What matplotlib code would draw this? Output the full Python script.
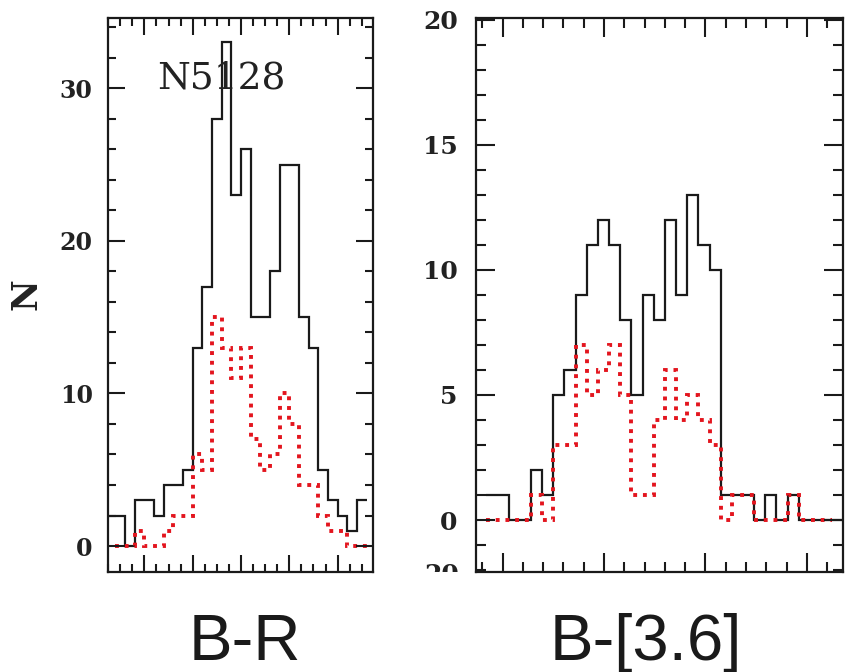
import numpy as np
import matplotlib
matplotlib.use("Agg")
import matplotlib.pyplot as plt
from matplotlib.ticker import MultipleLocator
from matplotlib.transforms import Bbox, TransformedBbox

# ---- data ----
# left panel: B-R colour histogram, bins of 0.1 starting at 0.1
br_start, br_width = 0.1, 0.1
br_all = [2, 2, 0, 3, 3, 2, 4, 4, 5, 13, 17, 28, 33, 23, 26, 15, 15, 18, 25, 25,
          15, 13, 5, 3, 2, 1, 3]
# red subsample, bins starting at 0.2
br_sub_start = 0.2
br_sub = [0, 0, 1, 0, 0, 1, 2, 2, 6, 5, 15, 13, 11, 13, 7, 5, 6, 10, 8, 4,
          4, 2, 1, 1, 0, 0]

# right panel: B-[3.6] histogram, bins of 0.11 starting at 1.84
b36_start, b36_width = 1.84, 0.11
b36_all = [1, 1, 0, 0, 2, 1, 5, 6, 9, 11, 12, 11, 8, 5, 9, 8, 12, 9, 13, 11,
           10, 1, 1, 1, 0, 1, 0, 1, 0, 0, 0, 0]
b36_sub = [0, 0, 0, 0, 1, 0, 3, 3, 7, 5, 6, 7, 5, 1, 1, 4, 6, 4, 5, 4,
           3, 0, 1, 1, 0, 0, 0, 1, 0, 0, 0]

left_yticks = [0, 10, 20, 30]
right_yticks = [0, 5, 10, 15, 20]

W, H = 846, 672
BLACK = "#1a1a1a"
RED = "#e3151e"
DOTS = (0, (1, 1.5))


def edges(start, width, n):
    return start + width * np.arange(n + 1)


def style_axes(ax, major_len, minor_len):
    for sp in ax.spines.values():
        sp.set_linewidth(1.6)
        sp.set_color(BLACK)
    ax.tick_params(which="both", direction="in", top=True, right=True,
                   width=1.5, color=BLACK, labelbottom=False)
    ax.tick_params(which="major", length=major_len)
    ax.tick_params(which="minor", length=minor_len)


fig = plt.figure(figsize=(W / 100, H / 100), dpi=100)

# ---- left panel ----
ax1 = fig.add_axes([108 / W, 100 / H, 265 / W, 554 / H])
ax1.stairs(br_all, edges(br_start, br_width, len(br_all)), baseline=None,
           color=BLACK, lw=1.6)
ax1.stairs(br_sub, edges(br_sub_start, br_width, len(br_sub)), baseline=None,
           color=RED, lw=2.8, linestyle=DOTS)
ax1.set_xlim(0.123, 2.866)
ax1.set_ylim(-1.7, 34.6)
ax1.xaxis.set_major_locator(MultipleLocator(0.5))
ax1.xaxis.set_minor_locator(MultipleLocator(0.125))
ax1.set_yticks(left_yticks)
ax1.yaxis.set_minor_locator(MultipleLocator(2))
style_axes(ax1, 12, 6)
ax1.tick_params(axis="y", pad=11)
for lab in ax1.get_yticklabels():
    lab.set_fontfamily("DejaVu Serif")
    lab.set_fontweight("bold")
    lab.set_fontsize(17)
    lab.set_color("#222222")
ax1.text(0.63, 30, "N5128", fontfamily="DejaVu Serif", fontsize=27,
         color="#222222", ha="left", va="baseline")
fig.text(27 / W, 1 - 294 / H, "N", fontfamily="DejaVu Serif",
         fontweight="bold", fontsize=25, color="#222222", rotation=90,
         ha="center", va="center")

# ---- right panel ----
ax2 = fig.add_axes([475.7 / W, 100 / H, 367 / W, 554 / H])
ax2.stairs(b36_all, edges(b36_start, b36_width, len(b36_all)), baseline=None,
           color=BLACK, lw=1.6)
ax2.stairs(b36_sub, edges(b36_start, b36_width, len(b36_sub)), baseline=None,
           color=RED, lw=2.8, linestyle=DOTS)
ax2.set_xlim(1.735, 5.353)
ax2.set_ylim(-2.08, 20.08)
ax2.xaxis.set_major_locator(MultipleLocator(1))
ax2.xaxis.set_minor_locator(MultipleLocator(0.2))
ax2.set_yticks(right_yticks)
ax2.yaxis.set_minor_locator(MultipleLocator(1))
style_axes(ax2, 14, 7)
ax2.tick_params(axis="y", pad=13)
for lab in ax2.get_yticklabels():
    lab.set_fontfamily("DejaVu Serif")
    lab.set_fontweight("bold")
    lab.set_fontsize(18)
    lab.set_color("#222222")

# label of the panel below, cut off by the frame edge
cut = fig.text(459 / W, 1 - 582 / H, "20", fontfamily="DejaVu Serif",
               fontweight="bold", fontsize=18, color="#222222",
               ha="right", va="baseline")
cut.set_clip_box(TransformedBbox(Bbox([[0, 1 - 572 / H], [1, 1]]),
                                 fig.transFigure))
cut.set_clip_on(True)

# ---- bottom titles ----
fig.text(245 / W, 1 - 660 / H, "B-R", fontfamily="Liberation Sans",
         fontsize=47, color=BLACK, ha="center", va="baseline")
fig.text(646 / W, 1 - 660 / H, "B-[3.6]", fontfamily="Liberation Sans",
         fontsize=47, color=BLACK, ha="center", va="baseline")

fig.savefig("out.png", dpi=100)
